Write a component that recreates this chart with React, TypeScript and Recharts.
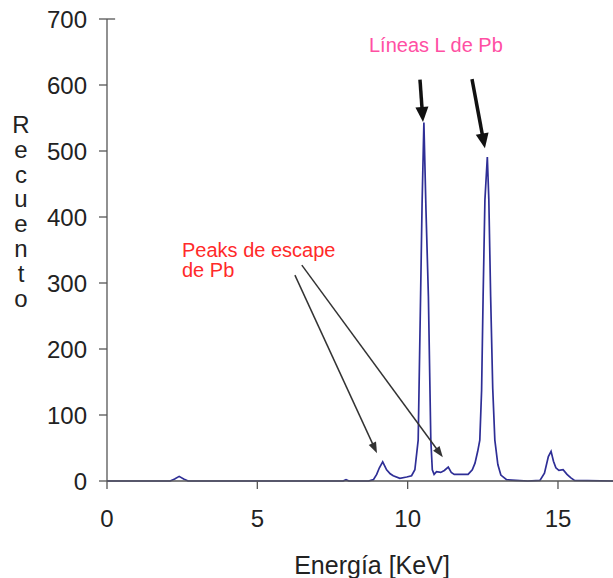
import React from 'react';
import { LineChart, Line, XAxis, YAxis, ReferenceLine, Customized } from 'recharts';

// Spectrum: energy (keV) and counts
const energies = [0, 2.1, 2.25, 2.4, 2.55, 2.7, 7.85, 7.95, 8.05, 8.7, 8.86, 8.97, 9.06, 9.17, 9.3, 9.42, 9.52, 9.74, 9.97, 10.13, 10.24, 10.35, 10.43, 10.48, 10.54, 10.61, 10.69, 10.77, 10.82, 10.88, 10.96, 11.1, 11.22, 11.35, 11.45, 11.55, 11.8, 12.01, 12.15, 12.24, 12.33, 12.4, 12.46, 12.51, 12.57, 12.65, 12.7, 12.76, 12.83, 12.9, 13.0, 13.1, 13.29, 13.6, 14.0, 14.4, 14.55, 14.68, 14.77, 14.85, 14.93, 15.03, 15.17, 15.3, 15.42, 15.55, 16.85];
const counts = [0, 0, 3, 7, 3, 0, 0, 2, 0, 0, 2, 10, 20, 29, 17, 11, 8, 4, 6, 8, 17, 62, 280, 420, 543, 410, 280, 62, 17, 10, 14, 13, 16, 21, 13, 10, 10, 10, 17, 27, 45, 62, 138, 280, 426, 491, 426, 280, 140, 62, 25, 9, 2, 1, 0, 1, 12, 37, 45, 30, 20, 16, 17, 10, 5, 1, 0];

const xTicks = [0, 5, 10, 15];
const yTicks = [0, 100, 200, 300, 400, 500, 600, 700];

const yTitle = 'Recuento';
const xTitle = 'Energía [KeV]';
const linesLabel = 'Líneas L de Pb';
const escapeLabel = ['Peaks de escape', 'de Pb'];

// annotation arrows (data space)
const thickArrows = [
  [{ x: 10.41, y: 608 }, { x: 10.51, y: 544 }],
  [{ x: 12.14, y: 609 }, { x: 12.57, y: 504 }],
];
const thinArrows = [
  [{ x: 6.25, y: 312 }, { x: 8.98, y: 42 }],
  [{ x: 6.48, y: 327 }, { x: 11.17, y: 36 }],
];

const data = energies.map((e, i) => ({ e, c: counts[i] }));

const FONT = '"Liberation Sans", Arial, sans-serif';

const makeArrow = (color: string, width: number, headLen: number, headW: number) => (p: any) => {
  const { x1, y1, x2, y2 } = p;
  const dx = x2 - x1;
  const dy = y2 - y1;
  const L = Math.hypot(dx, dy) || 1;
  const ux = dx / L;
  const uy = dy / L;
  const bx = x2 - ux * headLen;
  const by = y2 - uy * headLen;
  const px = -uy;
  const py = ux;
  return (
    <g>
      <line x1={x1} y1={y1} x2={bx + ux * 2} y2={by + uy * 2} stroke={color} strokeWidth={width} />
      <polygon
        points={`${x2},${y2} ${bx + (px * headW) / 2},${by + (py * headW) / 2} ${bx - (px * headW) / 2},${by - (py * headW) / 2}`}
        fill={color}
      />
    </g>
  );
};

const Texts = () => (
  <g fontFamily={FONT}>
    {yTitle.split('').map((ch, i) => (
      <text key={i} x={21} y={133 + i * 24.8} textAnchor="middle" fontSize={24} fill="#222">
        {ch}
      </text>
    ))}
    <text x={372} y={574} textAnchor="middle" fontSize={25} fill="#222">
      {xTitle}
    </text>
    <text x={369} y={52} fontSize={20} fill="#ff4fa3">
      {linesLabel}
    </text>
    {escapeLabel.map((t, i) => (
      <text key={i} x={182} y={257 + i * 20} fontSize={20} fill="#ff2a2a">
        {t}
      </text>
    ))}
  </g>
);

export default function App() {
  return (
    <div style={{ position: 'absolute', left: 0, top: 0, width: 613, height: 578, background: '#fff' }}>
      <LineChart width={613} height={578} data={data} margin={{ top: 19, right: 0, left: 0, bottom: 0 }}>
        <XAxis
          dataKey="e"
          type="number"
          domain={[0, 16.83]}
          allowDataOverflow
          ticks={xTicks}
          tickSize={8}
          tickMargin={21}
          height={97}
          stroke="#555"
          strokeWidth={1.3}
          tick={{ fontSize: 24, fill: '#222', fontFamily: FONT }}
        />
        <YAxis
          type="number"
          domain={[0, 700]}
          ticks={yTicks}
          tickSize={8}
          tickMargin={12}
          width={107}
          stroke="#555"
          strokeWidth={1.3}
          tick={{ fontSize: 24, fill: '#222', fontFamily: FONT }}
        />
        <ReferenceLine segment={[{ x: 0, y: 700 }, { x: 0.27, y: 700 }]} stroke="#555" strokeWidth={1.3} />
        <Line
          dataKey="c"
          type="linear"
          stroke="#2e2e96"
          strokeWidth={1.7}
          dot={false}
          isAnimationActive={false}
        />
        {thickArrows.map((seg, i) => (
          <ReferenceLine key={'t' + i} segment={seg} shape={makeArrow('#111', 3.5, 15, 13)} />
        ))}
        {thinArrows.map((seg, i) => (
          <ReferenceLine key={'n' + i} segment={seg} shape={makeArrow('#333', 1.5, 11, 8)} />
        ))}
        <Customized component={Texts} />
      </LineChart>
    </div>
  );
}
